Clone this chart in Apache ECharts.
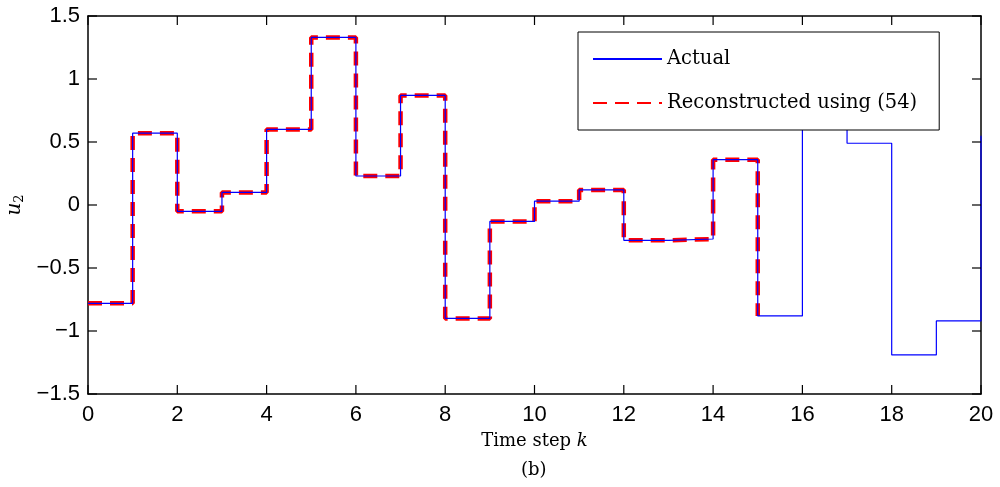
<!DOCTYPE html>
<html>
<head>
<meta charset="utf-8">
<script src="https://cdn.jsdelivr.net/npm/echarts@6/dist/echarts.min.js"></script>
<style>
  html, body { margin: 0; padding: 0; background: #fff; }
  #chart { width: 1000px; height: 487px; }
</style>
</head>
<body>
<div id="chart"></div>
<script>
// time steps and values
var steps = [0, 1, 2, 3, 4, 5, 6, 7, 8, 9, 10, 11, 12, 13, 14, 15, 16, 17, 18, 19, 20];
var actual = [-0.78, 0.57, -0.05, 0.10, 0.60, 1.33, 0.23, 0.87, -0.90, -0.13, 0.03, 0.12, -0.28, -0.27, 0.36, -0.88, 0.90, 0.49, -1.19, -0.92, 0.55];
var reconstructed = [-0.78, 0.57, -0.05, 0.10, 0.60, 1.33, 0.23, 0.87, -0.90, -0.13, 0.03, 0.12, -0.28, -0.27, 0.36, -0.88];
var xTickVals = [0, 2, 4, 6, 8, 10, 12, 14, 16, 18, 20];
var yTickVals = [-1.5, -1, -0.5, 0, 0.5, 1, 1.5];

function pairs(xs, ys) {
  var out = [];
  for (var i = 0; i < ys.length; i++) out.push([xs[i], ys[i]]);
  return out;
}

var sans = 'Liberation Sans';
var serif = 'DejaVu Serif';
var tickLen = 9;
var xMin = xTickVals[0], xMax = xTickVals[xTickVals.length - 1];
var yMin = yTickVals[0], yMax = yTickVals[yTickVals.length - 1];

var chart = echarts.init(document.getElementById('chart'));

function boxLine() {
  return { show: true, onZero: false, lineStyle: { color: '#000', width: 1.5 } };
}

var option = {
  animation: false,
  backgroundColor: '#fff',
  grid: { left: 88, right: 19, top: 16, bottom: 93, outerBoundsMode: 'none', containLabel: false },
  legend: {
    orient: 'vertical',
    left: 578,
    top: 32,
    padding: [17, 22, 17, 14],
    itemGap: 24,
    itemWidth: 69,
    itemHeight: 10,
    backgroundColor: '#fff',
    borderColor: '#000',
    borderWidth: 1,
    itemStyle: { opacity: 0 },
    textStyle: { fontFamily: serif, fontSize: 19.5, color: '#000' },
    data: ['Actual', 'Reconstructed using (54)']
  },
  xAxis: [{
    type: 'value',
    min: xMin, max: xMax, interval: 2,
    axisLine: boxLine(),
    axisTick: { show: false },
    splitLine: { show: false },
    axisLabel: { fontFamily: sans, fontSize: 22, color: '#000', margin: 10 },
    name: '{a|Time step }{b|k}',
    nameLocation: 'middle',
    nameGap: 38,
    nameTextStyle: {
      rich: {
        a: { fontFamily: serif, fontSize: 18, color: '#000' },
        b: { fontFamily: serif, fontSize: 18, fontStyle: 'italic', color: '#000' }
      }
    }
  }, {
    type: 'value', position: 'top',
    min: xMin, max: xMax, interval: 2,
    axisLine: boxLine(),
    axisTick: { show: false },
    axisLabel: { show: false },
    splitLine: { show: false }
  }],
  yAxis: [{
    type: 'value',
    min: yMin, max: yMax, interval: 0.5,
    axisLine: boxLine(),
    axisTick: { show: false },
    splitLine: { show: false },
    axisLabel: {
      fontFamily: sans, fontSize: 22, color: '#000', margin: 8,
      formatter: function (v) { return String(v).replace('-', '\u2212'); }
    },
    name: '{u|u}{s|2}',
    nameLocation: 'middle',
    nameGap: 61,
    nameTextStyle: {
      rich: {
        u: { fontFamily: serif, fontSize: 20, fontStyle: 'italic', color: '#000' },
        s: { fontFamily: serif, fontSize: 13, color: '#000', verticalAlign: 'bottom', padding: [8, 0, 0, 0] }
      }
    }
  }, {
    type: 'value', position: 'right',
    min: yMin, max: yMax, interval: 0.5,
    axisLine: boxLine(),
    axisTick: { show: false },
    axisLabel: { show: false },
    splitLine: { show: false }
  }],
  series: [{
    name: 'Actual',
    type: 'line',
    step: 'end',
    data: pairs(steps, actual),
    showSymbol: false,
    symbol: 'none',
    lineStyle: { color: '#0000ff', width: 1.2 },
    itemStyle: { color: '#0000ff' },
    z: 3
  }, {
    name: 'Reconstructed using (54)',
    type: 'line',
    step: 'end',
    data: pairs(steps, reconstructed),
    showSymbol: false,
    symbol: 'none',
    lineStyle: { color: '#ff0000', width: 4.5, type: [14, 8] },
    itemStyle: { color: '#ff0000' },
    z: 2
  }]
};

chart.setOption(option);

// inward tick marks on all four sides, placed through the axes' own scales
var graphics = [{
  type: 'text',
  left: 521,
  top: 461,
  style: { text: '(b)', fontFamily: serif, fontSize: 18, fill: '#000' }
}];
function toPx(x, y) {
  return chart.convertToPixel({ xAxisIndex: 0, yAxisIndex: 0 }, [x, y]);
}
function tickRect(x, y, w, h) {
  graphics.push({
    type: 'rect', silent: true, z: 10,
    shape: { x: x, y: y, width: w, height: h },
    style: { fill: '#000' }
  });
}
xTickVals.forEach(function (v) {
  var b = toPx(v, yMin), t = toPx(v, yMax);
  tickRect(b[0] - 0.6, b[1] - tickLen, 1.2, tickLen);
  tickRect(t[0] - 0.6, t[1], 1.2, tickLen);
});
yTickVals.forEach(function (v) {
  var l = toPx(xMin, v), r = toPx(xMax, v);
  tickRect(l[0], l[1] - 0.6, tickLen, 1.2);
  tickRect(r[0] - tickLen, r[1] - 0.6, tickLen, 1.2);
});
chart.setOption({ graphic: graphics });
</script>
</body>
</html>
